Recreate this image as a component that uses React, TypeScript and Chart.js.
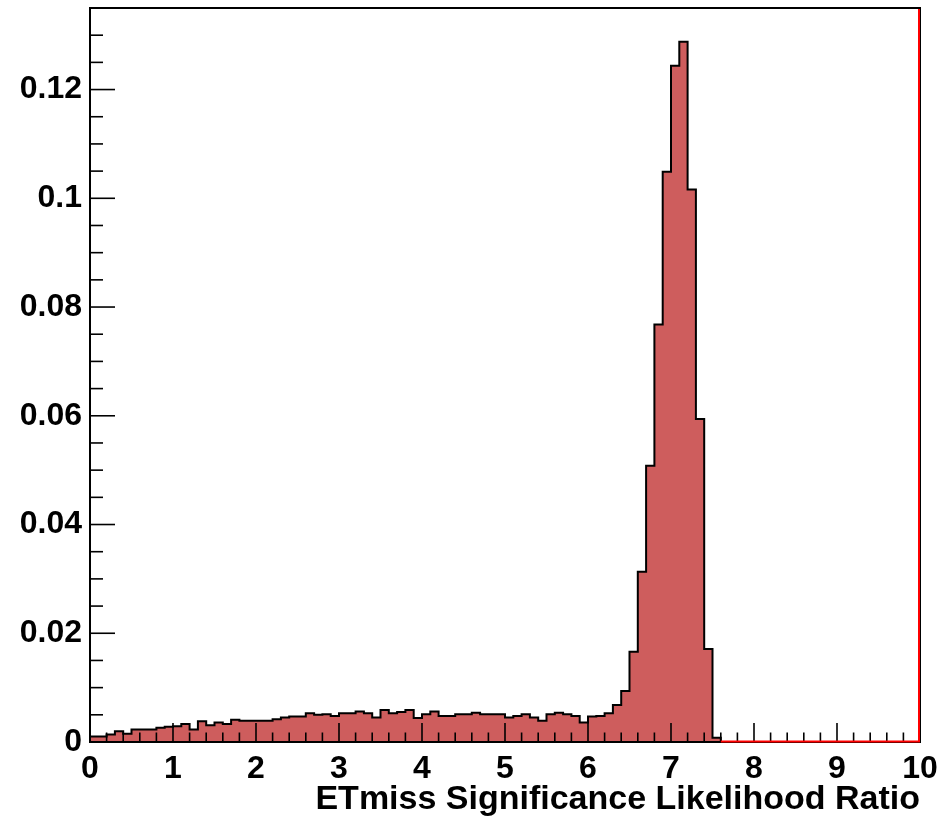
import React, { useEffect, useRef } from "react";
import { Chart, registerables } from "chart.js";

Chart.register(...registerables);

// ---- data ----
const binWidth = 0.1;
const histValues: number[] = [
  0.0010, 0.0010, 0.0014, 0.0020, 0.0015, 0.0023, 0.0023, 0.0023, 0.0026, 0.0028,
  0.0029, 0.0033, 0.0023, 0.0038, 0.0031, 0.0036, 0.0033, 0.0041, 0.0039, 0.0039,
  0.0039, 0.0039, 0.0042, 0.0045, 0.0047, 0.0047, 0.0053, 0.0050, 0.0051, 0.0048,
  0.0053, 0.0053, 0.0056, 0.0053, 0.0045, 0.0059, 0.0053, 0.0055, 0.0059, 0.0044,
  0.0051, 0.0056, 0.0048, 0.0048, 0.0051, 0.0051, 0.0054, 0.0051, 0.0051, 0.0051,
  0.0045, 0.0048, 0.0051, 0.0045, 0.0039, 0.0051, 0.0054, 0.0051, 0.0048, 0.0036,
  0.0047, 0.0048, 0.0053, 0.0068, 0.0094, 0.0166, 0.0313, 0.0508, 0.0768, 0.1049,
  0.1244, 0.1288, 0.1016, 0.0594, 0.0171, 0.0008, 0, 0, 0, 0,
  0, 0, 0, 0, 0, 0, 0, 0, 0, 0,
  0, 0, 0, 0, 0, 0, 0, 0, 0, 0,
];
const xTickValues = [0, 1, 2, 3, 4, 5, 6, 7, 8, 9, 10];
const yTickValues = [0, 0.02, 0.04, 0.06, 0.08, 0.1, 0.12];
const xMin = 0;
const xMax = 10;
const yMin = 0;
const yMax = 0.135;
const xMinorStep = 0.2;
const yMinorStep = 0.005;
const emptyLineX = [7.6, 10];
const xTitle = "ETmiss Significance Likelihood Ratio";

const FILL = "rgb(206,93,93)";
const FONT = "'Liberation Sans', Arial, Helvetica, sans-serif";

const histPoints = histValues.flatMap((v, i) => [
  { x: i * binWidth, y: v },
  { x: (i + 1) * binWidth, y: v },
]);

const rootFrame = {
  id: "rootFrame",
  afterDatasetsDraw(chart: any) {
    const { ctx, chartArea } = chart;
    const xs = chart.scales.x;
    const ys = chart.scales.y;
    const { left, right, top, bottom } = chartArea;
    ctx.save();
    ctx.strokeStyle = "#000";
    ctx.lineWidth = 1.6;
    // x ticks (inside)
    const nx = Math.round((xMax - xMin) / xMinorStep);
    for (let i = 0; i <= nx; i++) {
      const v = xMin + i * xMinorStep;
      const major = Math.abs(v - Math.round(v)) < 1e-6;
      const px = xs.getPixelForValue(v);
      const len = major ? 19 : 9.5;
      ctx.beginPath();
      ctx.moveTo(px, bottom);
      ctx.lineTo(px, bottom - len);
      ctx.stroke();
    }
    // y ticks (inside)
    const ny = Math.round((yMax - yMin) / yMinorStep);
    for (let i = 0; i <= ny; i++) {
      const v = yMin + i * yMinorStep;
      const major = i % 4 === 0;
      const py = ys.getPixelForValue(v);
      const len = major ? 25 : 13;
      ctx.beginPath();
      ctx.moveTo(left, py);
      ctx.lineTo(left + len, py);
      ctx.stroke();
    }
    // frame
    ctx.lineWidth = 2;
    ctx.strokeRect(left, top, right - left, bottom - top);
    // red empty-hist line
    ctx.strokeStyle = "#ff0000";
    ctx.lineWidth = 2;
    ctx.beginPath();
    ctx.moveTo(xs.getPixelForValue(emptyLineX[0]), bottom - 0.5);
    ctx.lineTo(xs.getPixelForValue(emptyLineX[1]) - 1, bottom - 0.5);
    ctx.lineTo(xs.getPixelForValue(emptyLineX[1]) - 1, top + 1);
    ctx.stroke();
    ctx.restore();
  },
};

export default function App() {
  const ref = useRef<HTMLCanvasElement | null>(null);
  useEffect(() => {
    if (!ref.current) return;
    const chart = new Chart(ref.current, {
      type: "line",
      data: {
        datasets: [
          {
            data: histPoints,
            borderColor: "#000",
            borderWidth: 2,
            backgroundColor: FILL,
            fill: "origin",
            pointRadius: 0,
            tension: 0,
          },
        ],
      },
      options: {
        animation: false,
        responsive: false,
        events: [],
        plugins: { legend: { display: false }, tooltip: { enabled: false } },
        layout: { padding: { top: 8, right: 32, left: 0, bottom: 0 } },
        scales: {
          x: {
            type: "linear",
            min: xMin,
            max: xMax,
            afterBuildTicks: (s: any) => {
              s.ticks = xTickValues.map((v) => ({ value: v }));
            },
            afterFit: (s: any) => {
              s.height = 75;
              s.paddingLeft = 0;
              s.paddingRight = 0;
            },
            grid: { display: false, drawTicks: false },
            border: { display: false },
            ticks: {
              padding: 8,
              autoSkip: false,
              maxRotation: 0,
              color: "#000",
              font: { family: FONT, size: 32, weight: "bold" },
              callback: (v: any) => String(v),
            },
            title: {
              display: true,
              text: xTitle,
              align: "end",
              color: "#000",
              padding: 0,
              font: { family: FONT, size: 34, weight: "bold", lineHeight: 1 },
            },
          },
          y: {
            type: "linear",
            min: yMin,
            max: yMax,
            afterBuildTicks: (s: any) => {
              s.ticks = yTickValues.map((v) => ({ value: v }));
            },
            afterFit: (s: any) => {
              s.width = 90;
              s.paddingTop = 0;
              s.paddingBottom = 0;
            },
            grid: { display: false, drawTicks: false },
            border: { display: false },
            ticks: {
              padding: 8,
              autoSkip: false,
              color: "#000",
              font: { family: FONT, size: 32, weight: "bold" },
              callback: (v: any) => String(v),
            },
          },
        },
      },
      plugins: [rootFrame],
    });
    return () => chart.destroy();
  }, []);
  return (
    <div style={{ position: "fixed", left: 0, top: 0, width: 952, height: 817, background: "#fff" }}>
      <canvas ref={ref} width={952} height={817} style={{ display: "block" }} />
    </div>
  );
}
